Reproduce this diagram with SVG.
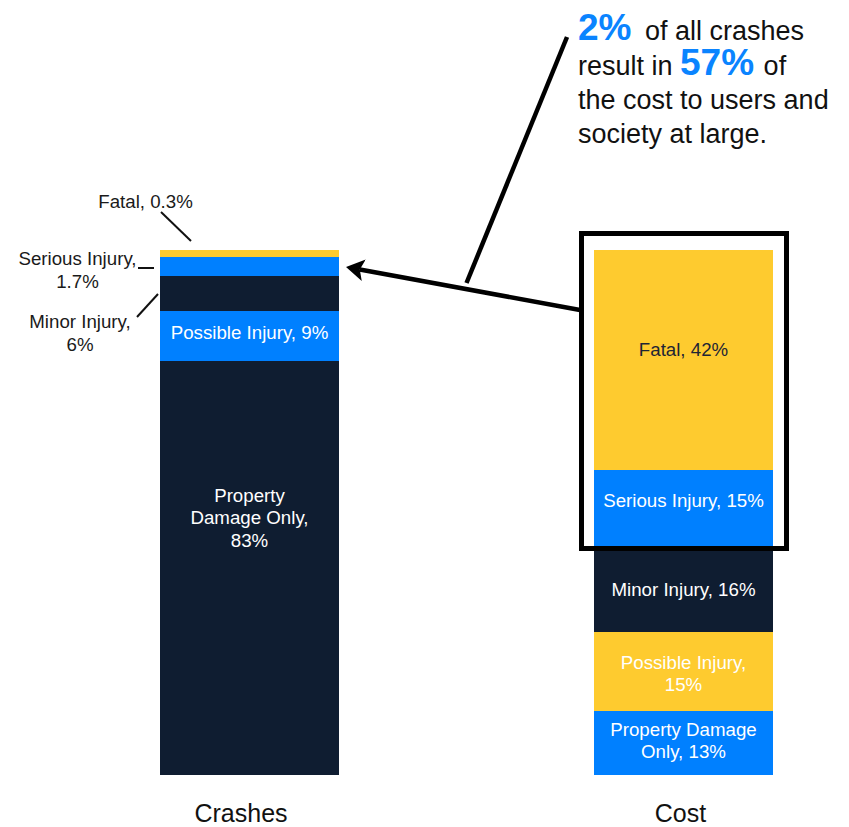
<svg xmlns="http://www.w3.org/2000/svg" width="849" height="827" viewBox="0 0 849 827">
<style>
text{font-family:"Liberation Sans",Arial,sans-serif;}
.lbl{font-size:18.7px;text-anchor:middle;}
.w{fill:#ffffff;}
.k{fill:#1a1a1a;}
.nv{fill:#1e2535;}
.y{fill:#fecb2f;}
.b{fill:#0080ff;}
.n{fill:#0f1d31;}
.axis{font-size:25px;text-anchor:middle;fill:#111;}
.call{font-size:27px;fill:#111;}
.big{font-size:37px;font-weight:bold;fill:#0a84ff;}
.lead{stroke:#111;stroke-width:2;fill:none;}
.heavy{stroke:#000;stroke-width:4.5;fill:none;}
</style>
<defs>
<marker id="ah" markerUnits="userSpaceOnUse" viewBox="0 0 18 24" markerWidth="18" markerHeight="24" refX="4" refY="12" orient="auto">
<path d="M0,1 L18,12 L0,23 L4,12 z" fill="#000"/>
</marker>
</defs>
<rect width="849" height="827" fill="#fff"/>

<g id="crashes-bar">
<rect class="y" x="160" y="250" width="179" height="7"/>
<rect class="b" x="160" y="257" width="179" height="19"/>
<rect class="n" x="160" y="276" width="179" height="35"/>
<rect class="b" x="160" y="311" width="179" height="50"/>
<rect class="n" x="160" y="361" width="179" height="414"/>
<text class="lbl w" x="249.5" y="339">Possible Injury, 9%</text>
<text class="lbl w" x="249.5" y="502">Property</text>
<text class="lbl w" x="249.5" y="524">Damage Only,</text>
<text class="lbl w" x="249.5" y="547">83%</text>
</g>

<g id="crashes-fatal-label">
<text class="lbl k" x="145.5" y="208">Fatal, 0.3%</text>
</g>
<g id="crashes-serious-label">
<text class="lbl k" x="77.5" y="265">Serious Injury,</text>
<text class="lbl k" x="77.5" y="288">1.7%</text>
</g>
<g id="crashes-minor-label">
<text class="lbl k" x="80" y="328">Minor Injury,</text>
<text class="lbl k" x="80" y="351">6%</text>
</g>

<g id="cost-bar">
<rect class="y" x="594" y="250" width="179" height="220"/>
<rect class="b" x="594" y="470" width="179" height="76"/>
<rect class="n" x="594" y="546" width="179" height="86"/>
<rect class="y" x="594" y="632" width="179" height="79"/>
<rect class="b" x="594" y="711" width="179" height="64"/>
<text class="lbl nv" x="683.5" y="356">Fatal, 42%</text>
<text class="lbl w" x="683.5" y="507">Serious Injury, 15%</text>
<text class="lbl w" x="683.5" y="596">Minor Injury, 16%</text>
<text class="lbl w" x="683.5" y="669">Possible Injury,</text>
<text class="lbl w" x="683.5" y="691">15%</text>
<text class="lbl w" x="683.5" y="736">Property Damage</text>
<text class="lbl w" x="683.5" y="758">Only, 13%</text>
</g>

<g id="highlight-box">
<rect x="581.5" y="233.5" width="205" height="315" fill="none" stroke="#000" stroke-width="5"/>
</g>

<g id="callout">
<text class="call" x="578" y="40"><tspan class="big">2%</tspan><tspan dx="6"> of all crashes</tspan></text>
<text class="call" x="578" y="75">result in <tspan class="big">57%</tspan><tspan dx="2"> of</tspan></text>
<text class="call" x="578" y="109">the cost to users and</text>
<text class="call" x="578" y="143">society at large.</text>
</g>

<g id="axis-labels">
<text class="axis" x="241" y="822">Crashes</text>
<text class="axis" x="680.5" y="822">Cost</text>
</g>

<g id="connectors">
<line class="lead" x1="161" y1="212" x2="191" y2="241"/>
<line class="lead" x1="138" y1="268" x2="154" y2="268"/>
<line class="lead" x1="137" y1="317" x2="158" y2="294"/>
<line class="heavy" x1="580" y1="310" x2="359.8" y2="269.5" marker-end="url(#ah)"/>
<line class="heavy" x1="466.5" y1="283" x2="567" y2="37"/>
</g>
</svg>
